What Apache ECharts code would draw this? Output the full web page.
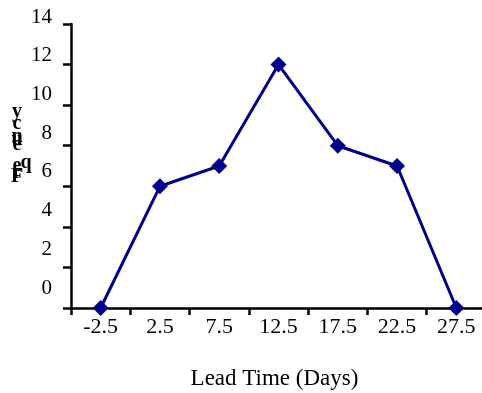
<!DOCTYPE html>
<html>
<head>
<meta charset="utf-8">
<script src="https://cdn.jsdelivr.net/npm/echarts@6/dist/echarts.min.js"></script>
<style>
  html, body { margin: 0; padding: 0; background: #fff; }
  #chart { width: 482px; height: 393px; }
</style>
</head>
<body>
<div id="chart"></div>
<script>
// Lead-time bins (class midpoints, days) and how many orders fell in each
const leadTimes = ['-2.5', '2.5', '7.5', '12.5', '17.5', '22.5', '27.5'];
const frequency = [0, 6, 7, 12, 8, 7, 0];
const yTicks = { min: 0, max: 14, step: 2 };
const yTitle = 'Frequency';

const serif = '"Liberation Serif", "DejaVu Serif", serif';
const chart = echarts.init(document.getElementById('chart'));

// The axis title is set glyph by glyph, upright and stacked bottom-to-top
const titleSpots = [
  [17, 177], [17, 173], [17, 166], [26, 163], [17, 140],
  [17, 145], [17, 137], [17, 124], [17, 112]
];
const titleGlyphs = yTitle.split('').map((ch, i) => ({
  type: 'text',
  x: titleSpots[i][0],
  y: titleSpots[i][1],
  style: {
    text: ch,
    font: 'bold 20px ' + serif,
    fill: '#000',
    align: 'center',
    verticalAlign: 'middle'
  }
}));

chart.setOption({
  animation: false,
  backgroundColor: '#fff',
  grid: [
    { left: 71, top: 24, width: 415, height: 284, outerBoundsMode: 'none', containLabel: false },
    // label band for the value axis, set slightly above the tick marks
    { left: 71, top: 17, width: 415, height: 271, outerBoundsMode: 'none', containLabel: false }
  ],
  xAxis: [{
    type: 'category',
    gridIndex: 0,
    data: leadTimes,
    boundaryGap: true,
    name: 'Lead Time (Days)',
    nameLocation: 'middle',
    nameGap: 59,
    nameTextStyle: { fontFamily: serif, fontSize: 23, color: '#000', padding: [0, 8, 0, 0] },
    axisLine: { lineStyle: { color: '#000', width: 2.5 } },
    axisTick: { show: true, length: 7, lineStyle: { color: '#000', width: 2.5 } },
    axisLabel: { fontFamily: serif, fontSize: 22, color: '#000', margin: 8 }
  }, {
    type: 'category',
    gridIndex: 1,
    data: leadTimes,
    show: false
  }],
  yAxis: [{
    type: 'value',
    gridIndex: 0,
    min: yTicks.min,
    max: yTicks.max,
    interval: yTicks.step,
    splitLine: { show: false },
    axisLine: { show: true, lineStyle: { color: '#000', width: 2.5 } },
    axisTick: { show: true, length: 8, lineStyle: { color: '#000', width: 2.5 } },
    axisLabel: { show: false }
  }, {
    type: 'value',
    gridIndex: 1,
    min: yTicks.min,
    max: yTicks.max,
    interval: yTicks.step,
    splitLine: { show: false },
    axisLine: { show: false },
    axisTick: { show: false },
    axisLabel: { fontFamily: serif, fontSize: 21, color: '#000', margin: 19 }
  }],
  graphic: titleGlyphs,
  series: [{
    type: 'line',
    xAxisIndex: 0,
    yAxisIndex: 0,
    data: frequency,
    symbol: 'diamond',
    symbolSize: 16,
    lineStyle: { color: '#00008b', width: 3 },
    itemStyle: { color: '#00008b' }
  }]
});
</script>
</body>
</html>
